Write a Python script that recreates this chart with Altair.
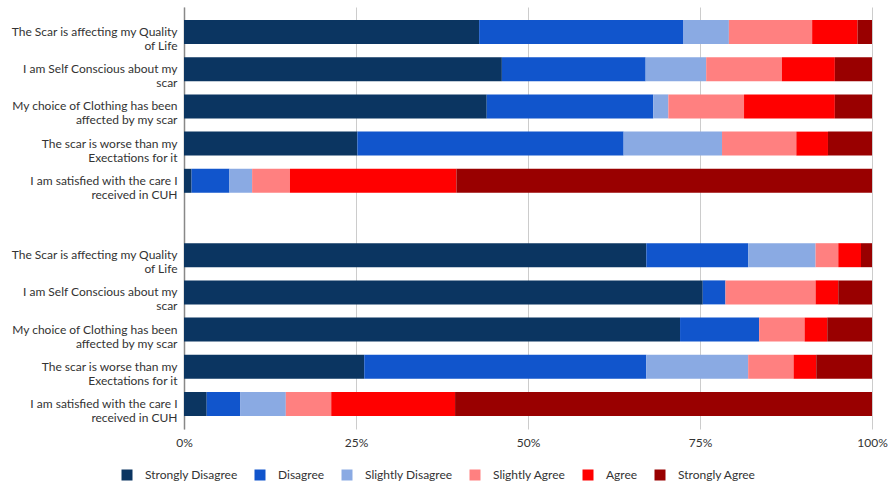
import altair as alt
import pandas as pd

levels = ["Strongly Disagree", "Disagree", "Slightly Disagree",
          "Slightly Agree", "Agree", "Strongly Agree"]
colors = ["#0b3561", "#1155cc", "#8aaae3", "#ff8080", "#ff0000", "#990000"]

questions = [
    "The Scar is affecting my Quality\nof Life",
    "I am Self Conscious about my\nscar",
    "My choice of Clothing has been\naffected by my scar",
    "The scar is worse than my\nExectations for it",
    "I am satisfied with the care I\nreceived in CUH",
]

# percentages per row, in order of levels
top_group = [
    [42.9, 29.7, 6.6, 12.1, 6.6, 2.1],
    [46.2, 20.9, 8.8, 11.0, 7.7, 5.4],
    [44.0, 24.2, 2.2, 11.0, 13.2, 5.4],
    [25.2, 38.7, 14.3, 10.8, 4.6, 6.4],
    [1.1, 5.5, 3.3, 5.5, 24.2, 60.4],
]
bottom_group = [
    [67.2, 14.8, 9.8, 3.3, 3.3, 1.6],
    [75.4, 3.3, 0.0, 13.1, 3.3, 4.9],
    [72.1, 11.5, 0.0, 6.6, 3.3, 6.5],
    [26.2, 41.0, 14.8, 6.6, 3.3, 8.1],
    [3.3, 4.9, 6.6, 6.6, 18.0, 60.6],
]

# row keys: top rows, an empty spacer row, bottom rows
row_keys = ["t%d" % i for i in range(5)] + ["gap"] + ["b%d" % i for i in range(5)]
row_labels = {}
for i, q in enumerate(questions):
    row_labels["t%d" % i] = q
    row_labels["b%d" % i] = q
row_labels["gap"] = ""

records = []
for prefix, group in (("t", top_group), ("b", bottom_group)):
    for i, vals in enumerate(group):
        for j, v in enumerate(vals):
            records.append({"row": "%s%d" % (prefix, i), "level": levels[j],
                            "rank": j, "value": v})
df = pd.DataFrame(records)

label_js = "{" + ",".join(
    "'%s': %s" % (k, "[" + ",".join("'%s'" % s for s in v.split("\n")) + "]" if v else "''")
    for k, v in row_labels.items()) + "}"

font = "Lato"

chart = alt.Chart(df).mark_bar().encode(
    x=alt.X("value:Q", stack="normalize",
            scale=alt.Scale(domain=[0, 1], nice=False),
            axis=alt.Axis(format="%", values=[0, 0.25, 0.5, 0.75, 1.0],
                          title=None, grid=True, gridColor="#cccccc",
                          domain=False, ticks=False, labelPadding=8,
                          labelFlush=False,
                          labelFontSize=12, labelColor="#333333",
                          labelFont=font)),
    y=alt.Y("row:N", sort=row_keys,
            scale=alt.Scale(domain=row_keys, paddingInner=0.355, paddingOuter=0.35),
            axis=alt.Axis(title=None, ticks=False, domainColor="#888888",
                          domainWidth=1.5,
                          labelExpr=label_js + "[datum.value]",
                          labelPadding=7, labelFontSize=12, labelColor="#333333",
                          labelFont=font, labelLineHeight=14,
                          labelLimit=300)),
    color=alt.Color("level:N", sort=levels,
                    scale=alt.Scale(domain=levels, range=colors),
                    legend=alt.Legend(title=None, orient="none",
                                      direction="horizontal", columns=6,
                                      legendX=-63, legendY=462,
                                      symbolType="square", symbolSize=121,
                                      symbolStrokeWidth=0, symbolOpacity=1,
                                      labelFontSize=12, labelFont=font,
                                      labelColor="#333333", labelOffset=12,
                                      columnPadding=16, padding=0)),
    order=alt.Order("rank:Q", sort="ascending"),
).properties(
    width=688, height=422,
    autosize=alt.AutoSizeParams(type="none"),
    padding={"left": 184, "top": 7, "right": 22, "bottom": 55},
).configure_view(stroke=None)

chart.save("out.html", embed_options={"renderer": "svg", "actions": False})
